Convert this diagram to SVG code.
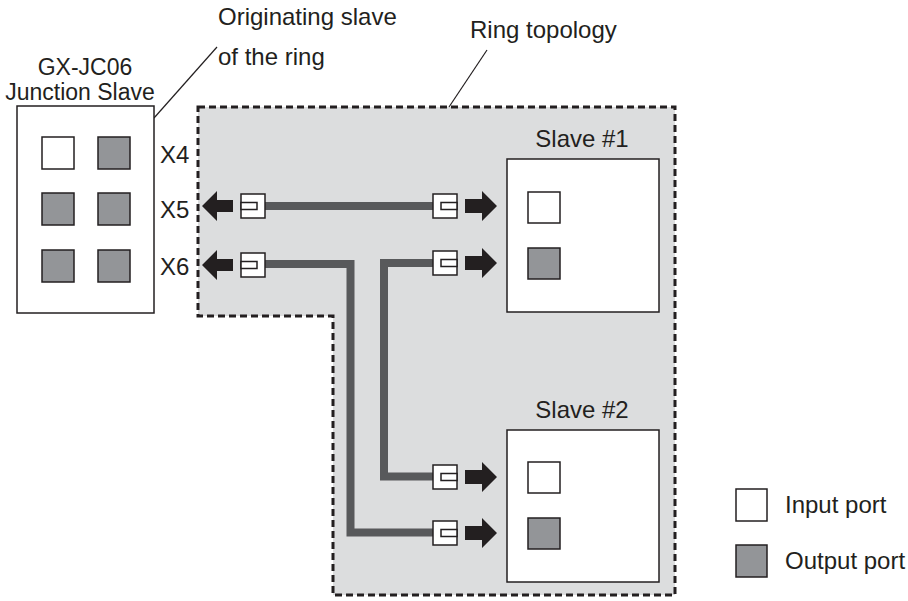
<svg xmlns="http://www.w3.org/2000/svg" width="908" height="601" viewBox="0 0 908 601">
<style>
text{font-family:"Liberation Sans",Arial,sans-serif;font-size:24px;fill:#231f20}
.sm{font-size:23px}
.box{fill:#fff;stroke:#231f20;stroke-width:1.5}
.pin{fill:#fff;stroke:#231f20;stroke-width:1.5}
.pout{fill:#939598;stroke:#231f20;stroke-width:1.5}
.cable{fill:none;stroke:#58595b;stroke-width:8}
.lead{fill:none;stroke:#231f20;stroke-width:1.2}
.arrow{fill:#231f20}
.conn{fill:#fff;stroke:#231f20;stroke-width:1.5}
</style>
<defs>
<path id="arR" d="M32,0 L17,-15 L17,-7 L0,-7 L0,7 L17,7 L17,15 Z"/>
<path id="arL" d="M0,0 L15,-15 L15,-6 L31,-6 L31,6 L15,6 L15,15 Z"/>
<g id="cnL"><rect x="0" y="-12" width="24" height="24"/><rect x="0" y="-3.5" width="16" height="7"/></g>
<g id="cnR"><rect x="0" y="-12" width="24" height="24"/><rect x="8" y="-3.5" width="16" height="7"/></g>
</defs>
<g id="ring">
<path d="M198,107 H675 V595 H333 V316 H198 Z" fill="#dcddde" stroke="#231f20" stroke-width="3" stroke-dasharray="7 4"/>
</g>
<g id="labels">
<text x="218" y="25">Originating slave</text>
<text x="218" y="65">of the ring</text>
<text x="470" y="38">Ring topology</text>
<path class="lead" d="M154,118 L217,47"/>
<path class="lead" d="M449,107 L487,50"/>
</g>
<g id="junction">
<text class="sm" x="85" y="75" text-anchor="middle">GX-JC06</text>
<text class="sm" x="80" y="100" text-anchor="middle">Junction Slave</text>
<rect class="box" x="17" y="106" width="137" height="207"/>
<rect class="pin" x="42" y="137" width="32" height="32"/>
<rect class="pout" x="98" y="137" width="32" height="32"/>
<rect class="pout" x="42" y="193" width="32" height="32"/>
<rect class="pout" x="98" y="193" width="32" height="32"/>
<rect class="pout" x="42" y="250" width="32" height="32"/>
<rect class="pout" x="98" y="250" width="32" height="32"/>
<text x="160" y="163">X4</text>
<text x="160" y="218">X5</text>
<text x="160" y="275">X6</text>
</g>
<g id="slave1">
<text x="582" y="147" text-anchor="middle">Slave #1</text>
<rect class="box" x="507" y="159" width="152" height="153"/>
<rect class="pin" x="528" y="192" width="32" height="31"/>
<rect class="pout" x="528" y="248" width="32" height="31"/>
</g>
<g id="slave2">
<text x="582" y="418" text-anchor="middle">Slave #2</text>
<rect class="box" x="507" y="430" width="152" height="152"/>
<rect class="pin" x="528" y="462" width="32" height="31"/>
<rect class="pout" x="528" y="518" width="32" height="31"/>
</g>
<g id="connectors">
<path class="cable" d="M265,206 H433"/>
<path class="cable" d="M265,264 H350.5 V532.5 H433"/>
<path class="cable" d="M433,263 H384 V476.5 H433"/>
<g class="conn">
<use href="#cnL" x="241" y="206"/>
<use href="#cnL" x="241" y="265"/>
<use href="#cnR" x="433" y="206"/>
<use href="#cnR" x="433" y="263"/>
<use href="#cnR" x="433" y="477"/>
<use href="#cnR" x="433" y="533"/>
</g>
<g class="arrow">
<use href="#arL" x="202" y="206"/>
<use href="#arL" x="202" y="265"/>
<use href="#arR" x="465" y="206"/>
<use href="#arR" x="465" y="263"/>
<use href="#arR" x="465" y="477"/>
<use href="#arR" x="465" y="533"/>
</g>
</g>
<g id="legend">
<rect class="pin" x="736" y="489" width="31" height="32"/>
<text x="785" y="513">Input port</text>
<rect class="pout" x="736" y="545" width="31" height="32"/>
<text x="785" y="569">Output port</text>
</g>
</svg>
